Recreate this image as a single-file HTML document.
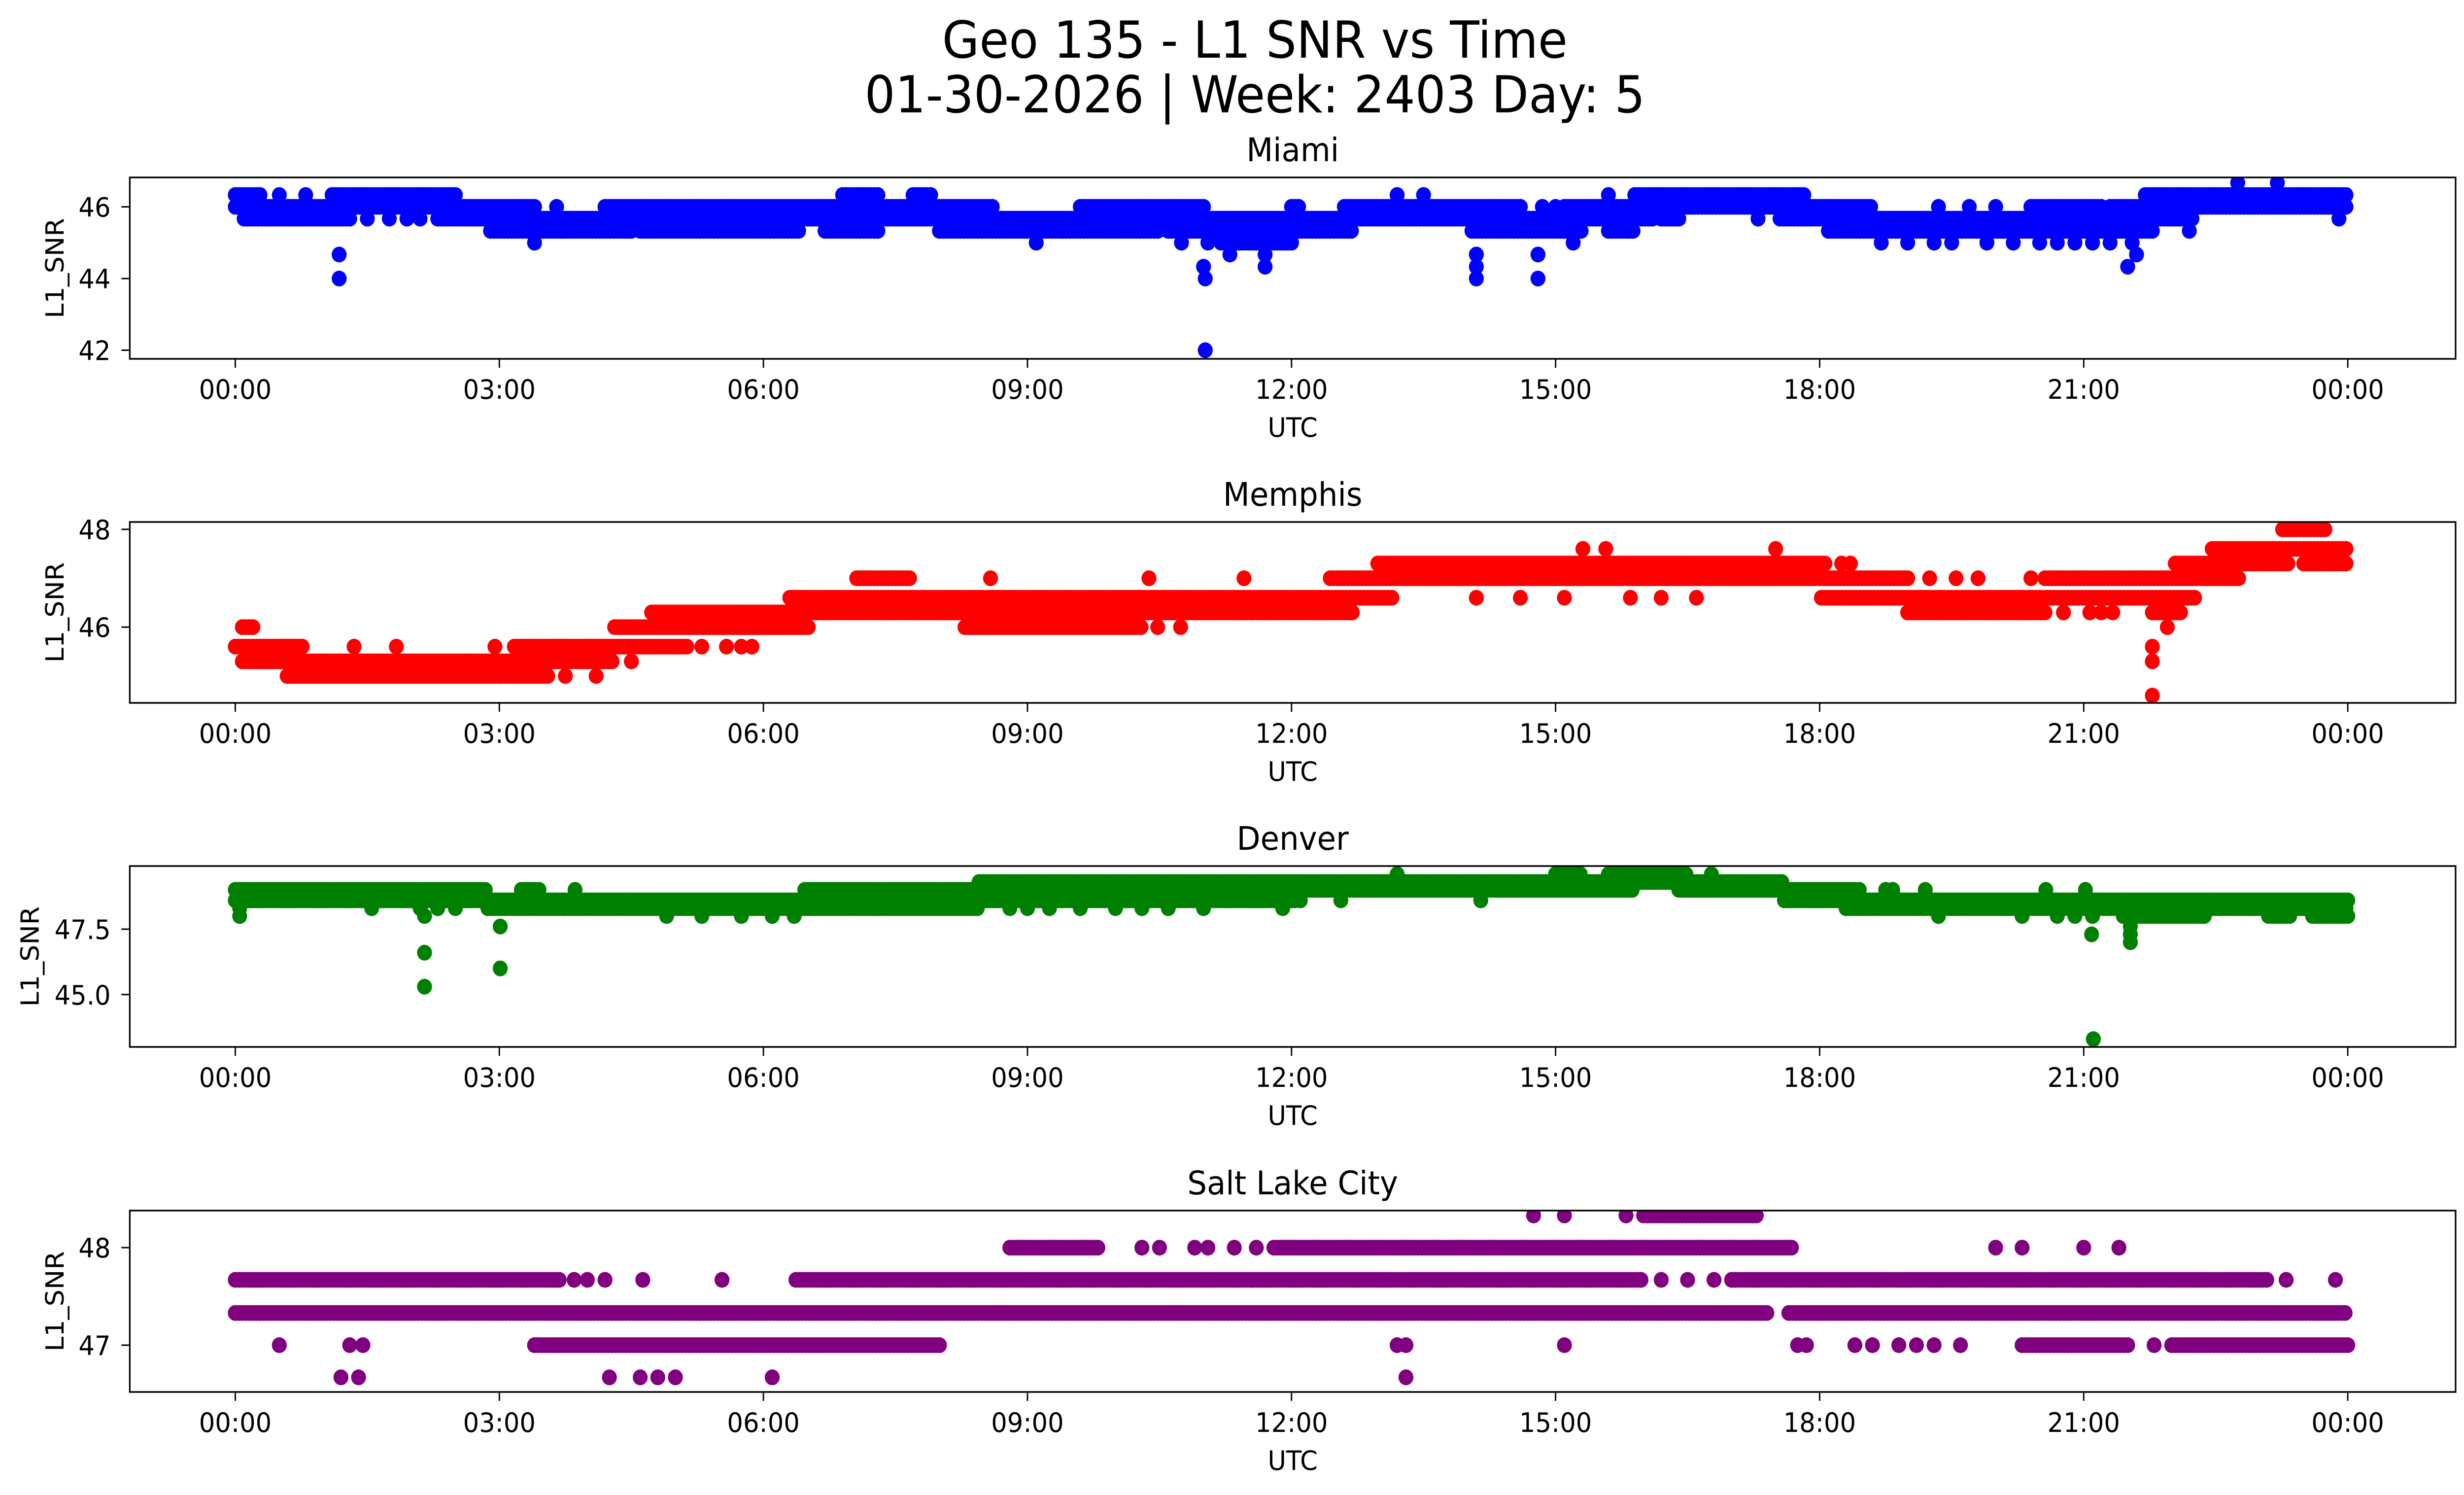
<!DOCTYPE html>
<html><head><meta charset="utf-8"><title>Geo 135 - L1 SNR vs Time</title>
<style>
html,body{margin:0;padding:0;background:#fff;overflow:hidden;width:100%;height:100%;}
svg{display:block;width:100vw;height:100vh;}
text{font-family:"DejaVu Sans","Liberation Sans",sans-serif;fill:#000;}
</style></head>
<body>
<svg id="fig" xmlns="http://www.w3.org/2000/svg" viewBox="0 0 5278 3033" preserveAspectRatio="none">
<rect width="5278" height="3033" fill="#fff"/>
<text x="2688" y="117" font-size="103" text-anchor="middle">Geo 135 - L1 SNR vs Time</text>
<text x="2688" y="228" font-size="103" text-anchor="middle">01-30-2026 | Week: 2403 Day: 5</text>
<g id="panels"></g>
</svg>
<script>
// ---- data (hours UTC, L1_SNR) ----
const xTickLabels = ["00:00","03:00","06:00","09:00","12:00","15:00","18:00","21:00","00:00"];
const xTickHours = [0,3,6,9,12,15,18,21,24];

const miamiRuns = [
 [0,0.29,46.33],[1.1,2.5,46.33],[6.9,7.3,46.33],[7.7,7.9,46.33],[15.9,17.85,46.33],[21.7,24.0,46.33],
 [0,3.4,46.0],[4.2,8.6,46.0],[9.6,11.0,46.0],[12.0,12.1,46.0],[12.6,14.6,46.0],[15.1,18.6,46.0],[20.4,21.2,46.0],[21.3,24.0,46.0],
 [0.1,1.3,45.67],[2.3,16.1,45.67],[16.2,16.4,45.67],[17.55,22.25,45.67],
 [2.9,4.5,45.33],[4.6,6.4,45.33],[6.7,7.3,45.33],[8.0,10.5,45.33],[10.6,12.7,45.33],[14.05,15.3,45.33],[15.6,15.9,45.33],[18.1,21.8,45.33],
 [11.2,12.0,45.0]
];
const miamiPoints = [
 [22.75,46.67],[23.2,46.67],
 [0.5,46.33],[0.8,46.33],[13.2,46.33],[13.5,46.33],[15.6,46.33],
 [3.65,46.0],[14.85,46.0],[15.0,46.0],[19.35,46.0],[19.7,46.0],[20.0,46.0],
 [1.5,45.67],[1.75,45.67],[1.95,45.67],[2.1,45.67],[17.3,45.67],[23.9,45.67],
 [22.2,45.33],
 [3.4,45.0],[9.1,45.0],[10.75,45.0],[11.05,45.0],[15.2,45.0],[18.7,45.0],[19.0,45.0],[19.3,45.0],[19.5,45.0],[19.9,45.0],[20.2,45.0],[20.5,45.0],[20.7,45.0],[20.9,45.0],[21.1,45.0],[21.3,45.0],[21.55,45.0],
 [1.18,44.67],[11.3,44.67],[11.7,44.67],[14.1,44.67],[14.8,44.67],[21.6,44.67],
 [11.0,44.33],[11.7,44.33],[14.1,44.33],[21.5,44.33],
 [1.18,44.0],[11.02,44.0],[14.1,44.0],[14.8,44.0],
 [11.02,42.0]
];

const memphisRuns = [
 [23.26,23.77,48.0],
 [22.46,23.98,47.6],
 [12.98,18.06,47.3],[22.04,23.35,47.3],[23.5,24.0,47.3],
 [7.06,7.69,47.0],[12.44,19.03,47.0],[20.56,22.76,47.0],
 [6.3,13.15,46.6],[18.02,22.29,46.6],
 [4.73,12.69,46.3],[19.0,20.56,46.3],[21.78,22.12,46.3],
 [0.08,0.2,46.0],[4.31,6.51,46.0],[8.29,10.32,46.0],
 [0,0.76,45.6],[3.17,5.16,45.6],
 [0.08,4.31,45.3],
 [0.59,3.55,45.0]
];
const memphisPoints = [
 [15.31,47.6],[15.57,47.6],[17.5,47.6],
 [18.25,47.3],[18.35,47.3],
 [8.58,47.0],[10.38,47.0],[11.46,47.0],[19.25,47.0],[19.55,47.0],[19.8,47.0],[20.4,47.0],
 [14.1,46.6],[14.6,46.6],[15.1,46.6],[15.85,46.6],[16.2,46.6],[16.6,46.6],
 [20.77,46.3],[21.07,46.3],[21.2,46.3],[21.33,46.3],
 [10.48,46.0],[10.74,46.0],[21.95,46.0],
 [1.35,45.6],[1.83,45.6],[2.95,45.6],[5.3,45.6],[5.58,45.6],[5.75,45.6],[5.87,45.6],[21.78,45.6],
 [4.5,45.3],[21.78,45.3],
 [3.75,45.0],[4.1,45.0],
 [21.78,44.6]
];

const denverRuns = [
 [15.0,15.3,49.6],[15.6,16.5,49.6],
 [8.45,17.6,49.3],
 [0,2.87,49.0],[3.25,3.46,49.0],[6.47,15.9,49.0],[16.4,18.4,49.0],
 [0,12.07,48.6],[17.6,24.0,48.6],
 [2.87,8.45,48.3],[18.3,24.0,48.3],
 [21.45,22.4,48.0],[23.1,23.35,48.0],[23.6,24.0,48.0]
];
const denverPoints = [
 [13.2,49.6],[16.77,49.6],
 [3.86,49.0],[18.45,49.0],[18.75,49.0],[18.83,49.0],[19.2,49.0],[20.57,49.0],[21.02,49.0],
 [12.1,48.6],[12.56,48.6],[14.15,48.6],
 [0.05,48.3],[1.55,48.3],[2.1,48.3],[2.3,48.3],[2.5,48.3],[8.8,48.3],[9.0,48.3],[9.25,48.3],[9.6,48.3],[10.0,48.3],[10.3,48.3],[10.6,48.3],[11.0,48.3],[11.9,48.3],
 [0.05,48.0],[2.15,48.0],[4.9,48.0],[5.3,48.0],[5.75,48.0],[6.1,48.0],[6.35,48.0],[19.35,48.0],[20.3,48.0],[20.7,48.0],[20.9,48.0],[21.1,48.0],
 [3.01,47.6],[21.53,47.6],
 [21.09,47.3],[21.53,47.3],
 [21.53,47.0],
 [2.15,46.6],
 [3.01,46.0],
 [2.15,45.3],
 [21.11,43.3]
];

const slcRuns = [
 [16.0,17.3,48.33],
 [8.8,9.8,48.0],[11.8,17.7,48.0],
 [0,3.7,47.67],[6.37,16.0,47.67],[17.0,23.1,47.67],
 [0,17.4,47.33],[17.65,24.0,47.33],
 [3.4,8.0,47.0],[20.3,21.5,47.0],[22.0,24.0,47.0]
];
const slcPoints = [
 [14.75,48.33],[15.1,48.33],[15.8,48.33],
 [10.3,48.0],[10.5,48.0],[10.9,48.0],[11.05,48.0],[11.35,48.0],[11.6,48.0],[20.0,48.0],[20.3,48.0],[21.0,48.0],[21.4,48.0],
 [3.85,47.67],[4.0,47.67],[4.2,47.67],[4.63,47.67],[5.53,47.67],[16.2,47.67],[16.5,47.67],[16.8,47.67],[23.3,47.67],[23.86,47.67],
 [0.5,47.0],[1.3,47.0],[1.45,47.0],[13.2,47.0],[13.3,47.0],[15.1,47.0],[17.75,47.0],[17.85,47.0],[18.4,47.0],[18.6,47.0],[18.9,47.0],[19.1,47.0],[19.3,47.0],[19.6,47.0],[21.8,47.0],
 [1.2,46.67],[1.4,46.67],[4.25,46.67],[4.6,46.67],[4.8,46.67],[5.0,46.67],[6.1,46.67],[13.3,46.67]
];

const miamiYTicks = [42,44,46];
const memphisYTicks = [46,48];
const denverYTicks = [45.0,47.5];
const slcYTicks = [47,48];

// ---- layout ----
const NS = "http://www.w3.org/2000/svg";
const AX_L = 278, AX_R = 5260, X0 = 504, PX_PER_H = (5029 - 504) / 24;
const R = 16;
const panels = [
 {key:"miami", title:"Miami", color:"#0000ff", top:360, bottom:728, ymin:41.76, ymax:46.82, ticks:miamiYTicks, dec:0, ylabX:118, runs:miamiRuns, pts:miamiPoints},
 {key:"memphis", title:"Memphis", color:"#ff0000", top:1059, bottom:1426, ymin:44.45, ymax:48.15, ticks:memphisYTicks, dec:0, ylabX:118, runs:memphisRuns, pts:memphisPoints},
 {key:"denver", title:"Denver", color:"#008000", top:1757, bottom:2124, ymin:43.0, ymax:49.91, ticks:denverYTicks, dec:1, ylabX:65, runs:denverRuns, pts:denverPoints},
 {key:"salt-lake-city", title:"Salt Lake City", color:"#800080", top:2456, bottom:2824, ymin:46.52, ymax:48.38, ticks:slcYTicks, dec:0, ylabX:118, runs:slcRuns, pts:slcPoints}
];
function xScale(h){ return X0 + h * PX_PER_H; }
function yScaleFor(p){ return v => p.bottom - (v - p.ymin) / (p.ymax - p.ymin) * (p.bottom - p.top); }
function mk(tag, attrs){ const e = document.createElementNS(NS, tag); for (const k in attrs) e.setAttribute(k, attrs[k]); return e; }

const root = document.getElementById("panels");
panels.forEach(p => {
  const y = yScaleFor(p);
  const g = mk("g", {});
  
  
  root.appendChild(g);

  const clipId = "clip-" + p.key;
  const cp = mk("clipPath", {id: clipId});
  cp.appendChild(mk("rect", {x: AX_L, y: p.top, width: AX_R - AX_L, height: p.bottom - p.top}));
  g.appendChild(cp);

  const dots = mk("g", {fill: p.color, "clip-path": "url(#" + clipId + ")"});
  
  
  g.appendChild(dots);
  const step = 0.04;
  p.runs.forEach(r => {
    for (let h = r[0]; h <= r[1] + 1e-9; h += step) {
      const c = mk("circle", {cx: xScale(h).toFixed(1), cy: y(r[2]).toFixed(1), r: R});
      
      
      dots.appendChild(c);
    }
  });
  p.pts.forEach(pt => {
    const c = mk("circle", {cx: xScale(pt[0]).toFixed(1), cy: y(pt[1]).toFixed(1), r: R});
    
    
    dots.appendChild(c);
  });

  const frame = mk("rect", {x: AX_L, y: p.top, width: AX_R - AX_L, height: p.bottom - p.top, fill: "none", stroke: "#000", "stroke-width": 3.4});
  
  
  g.appendChild(frame);

  const t = mk("text", {x: (AX_L + AX_R) / 2, y: p.top - 33, "font-size": 66, "text-anchor": "middle"});
  t.textContent = p.title;
  
  
  g.appendChild(t);

  xTickHours.forEach((h, i) => {
    const tk = mk("line", {x1: xScale(h), x2: xScale(h), y1: p.bottom, y2: p.bottom + 18, stroke: "#000", "stroke-width": 3});
    
    
    g.appendChild(tk);
    const lb = mk("text", {x: xScale(h), y: p.bottom + 81, "font-size": 54, "text-anchor": "middle"});
    lb.textContent = xTickLabels[i];
    
    
    g.appendChild(lb);
  });
  const xl = mk("text", {x: (AX_L + AX_R) / 2, y: p.bottom + 158, "font-size": 54, "text-anchor": "middle"});
  xl.textContent = "UTC";
  
  
  g.appendChild(xl);

  p.ticks.forEach(v => {
    const tk = mk("line", {x1: AX_L - 18, x2: AX_L, y1: y(v), y2: y(v), stroke: "#000", "stroke-width": 3});
    
    
    g.appendChild(tk);
    const lb = mk("text", {x: 237, y: y(v) + 20, "font-size": 54, "text-anchor": "end"});
    lb.textContent = v.toFixed(p.dec);
    
    
    g.appendChild(lb);
  });
  const cy = (p.top + p.bottom) / 2;
  const yl = mk("text", {x: p.ylabX, y: cy, "font-size": 54, "text-anchor": "middle", transform: "rotate(-90 " + p.ylabX + " " + cy + ")", "dominant-baseline": "central"});
  yl.textContent = "L1_SNR";
  
  
  g.appendChild(yl);
});
</script>
</body></html>
